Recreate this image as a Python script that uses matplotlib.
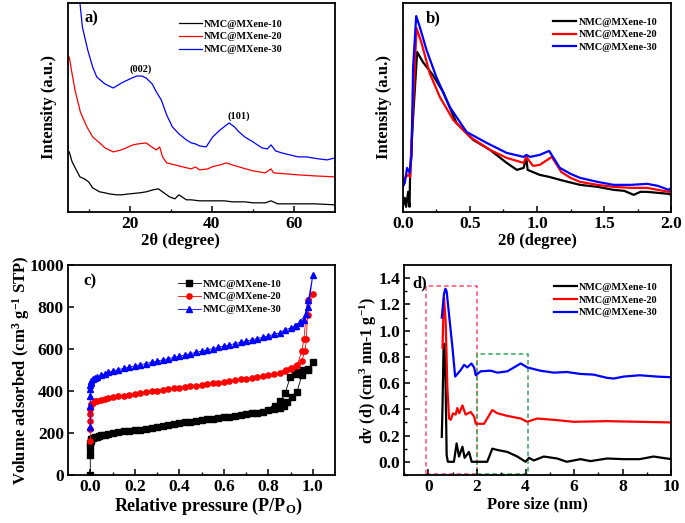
import numpy as np
import matplotlib
matplotlib.use("Agg")
import matplotlib.pyplot as plt
from matplotlib.patches import Rectangle

plt.rcParams['font.family'] = ['Liberation Serif', 'DejaVu Serif']
plt.rcParams['font.weight'] = 'bold'
plt.rcParams['axes.labelweight'] = 'bold'
plt.rcParams['mathtext.fontset'] = 'custom'
plt.rcParams['mathtext.rm'] = 'Liberation Serif:bold'
plt.rcParams['mathtext.it'] = 'Liberation Serif:bold'
plt.rcParams['mathtext.bf'] = 'Liberation Serif:bold'

names = ['NMC@MXene-10', 'NMC@MXene-20', 'NMC@MXene-30']
cols = ['black', 'red', 'blue']

# a) XRD, arbitrary units
xa_10 = [5.3, 6, 7, 7.9, 9, 10, 11, 12.7, 14, 15, 16.8, 18, 20, 22.4, 24, 25.7, 27, 28, 29.7, 31, 32, 33.8, 35, 37, 39, 41, 43, 45, 48, 50, 53, 54.4, 56, 60, 65, 70]
ya_10 = [60, 50, 42, 35, 33, 30, 24, 20, 19, 18, 17, 17, 18, 19, 20, 22, 23, 20, 15, 13, 17, 12, 12, 11, 11, 11, 11, 10, 10, 9, 9, 11, 8, 8, 8, 7]
xa_20 = [5.3, 6, 6.7, 8, 9.6, 11, 12.7, 14, 16, 18, 20.8, 22, 24, 25, 26.5, 27.3, 28, 29, 31, 32.9, 35, 36, 37, 39, 40, 42, 43.5, 45, 47.4, 50, 53, 54.4, 55, 58, 61, 65, 70]
ya_20 = [155, 138, 122, 100, 85, 75, 69, 64, 60, 62, 67, 68, 69, 66, 62, 65, 55, 49, 47, 45, 43, 45, 42, 43, 45, 47, 49, 47, 44, 41, 39, 43, 39, 38, 37, 36, 35]
xa_30 = [7.9, 8.5, 9.8, 11, 12, 14, 16, 18, 20, 21.7, 23, 24, 25.5, 26.5, 27.7, 29, 30.4, 32, 33.8, 35, 36, 37, 38.6, 40.2, 42, 44.2, 45.5, 46.6, 48, 50, 52.2, 53.5, 54.4, 55.5, 57, 59, 61, 63, 66, 68, 70]
ya_30 = [209, 185, 162, 145, 135, 128, 124, 129, 133, 136, 136, 134, 128, 120, 112, 97, 85, 78, 72, 69, 68, 66, 65, 75, 82, 89, 85, 80, 75, 70, 64, 63, 67, 61, 59, 57, 55, 55, 53, 52, 54]

# b) low-angle XRD, arbitrary units
xb_10 = [0.0, 0.015, 0.025, 0.04, 0.05, 0.055, 0.077, 0.107, 0.15, 0.224, 0.3, 0.4, 0.525, 0.65, 0.774, 0.85, 0.9, 0.92, 0.93, 1.02, 1.09, 1.2, 1.32, 1.45, 1.57, 1.65, 1.72, 1.77, 1.82, 1.9, 1.98, 2.0]
yb_10 = [5, 14, 5, 20, 5, 39, 95, 160, 150, 137, 120, 89, 72, 62, 49, 42, 44, 54, 42, 37, 35, 31, 27, 25, 22, 21, 17, 20, 20, 19, 18, 17]
xb_20 = [0.0, 0.015, 0.04, 0.055, 0.072, 0.102, 0.14, 0.2, 0.276, 0.376, 0.5, 0.65, 0.774, 0.9, 0.92, 0.97, 1.02, 1.11, 1.18, 1.25, 1.32, 1.45, 1.57, 1.7, 1.82, 1.9, 1.98, 2.0]
yb_20 = [30, 34, 37, 35, 92, 184, 169, 139, 115, 92, 75, 62, 54, 49, 55, 46, 47, 55, 40, 34, 30, 27, 25, 24, 24, 22, 20, 21]
xb_30 = [0.0, 0.015, 0.032, 0.05, 0.065, 0.077, 0.10, 0.127, 0.177, 0.25, 0.35, 0.475, 0.625, 0.774, 0.9, 0.92, 0.948, 1.02, 1.09, 1.17, 1.25, 1.32, 1.45, 1.57, 1.7, 1.82, 1.9, 1.98, 2.0]
yb_30 = [25, 29, 44, 39, 55, 145, 196, 185, 162, 135, 105, 80, 69, 59, 55, 57, 55, 57, 61, 44, 38, 34, 30, 27, 27, 28, 26, 22, 24]

# c) N2 isotherms (adsorption then desorption)
pc_10 = [0.0, 0.0, 0.0, 0.0, 0.002, 0.005, 0.01, 0.02, 0.03, 0.04, 0.05, 0.065, 0.08,
         0.10, 0.125, 0.15, 0.175, 0.20, 0.225, 0.25, 0.275, 0.30, 0.325, 0.35, 0.375, 0.40, 0.425, 0.45, 0.475,
         0.50, 0.525, 0.55, 0.575, 0.60, 0.625, 0.65, 0.675, 0.70, 0.725, 0.75, 0.775, 0.80, 0.825, 0.85,
         0.868, 0.883, 0.905, 0.928, 0.95, 0.98, 1.0,
         0.98, 0.957, 0.935, 0.92, 0.898, 0.875, 0.853, 0.83]
vc_10 = [0, 95, 130, 150, 160, 170, 175, 180, 183, 186, 188, 192, 196,
         200, 204, 207, 210, 213, 216, 220, 225, 230, 234, 238, 242, 246, 250, 254, 258,
         262, 265, 268, 272, 275, 278, 282, 285, 289, 293, 297, 302, 307, 312, 320,
         330, 346, 370, 394, 474, 501, 537,
         505, 498, 490, 482, 466, 389, 351, 330]
pc_20 = [0.0, 0.0, 0.0, 0.0, 0.0, 0.002, 0.005, 0.01, 0.02, 0.03, 0.05, 0.065, 0.08,
         0.10, 0.125, 0.15, 0.175, 0.20, 0.225, 0.25, 0.275, 0.30, 0.325, 0.35, 0.375, 0.40, 0.425, 0.45, 0.475,
         0.50, 0.525, 0.55, 0.575, 0.60, 0.625, 0.65, 0.675, 0.70, 0.725, 0.75, 0.775, 0.80, 0.825, 0.85,
         0.875, 0.9, 0.925, 0.95, 0.965, 0.97, 0.976, 1.0,
         0.976, 0.96, 0.95, 0.93, 0.9, 0.88]
vc_20 = [160, 220, 255, 290, 315, 335, 340, 345, 350, 353, 357, 361, 365,
         370, 374, 378, 382, 386, 390, 394, 398, 402, 406, 409, 413, 416, 419, 422, 425,
         428, 432, 436, 440, 444, 448, 452, 455, 459, 463, 467, 471, 476, 481, 487,
         495, 505, 517, 545, 590, 646, 760, 861,
         836, 650, 590, 525, 512, 500]
pc_30 = [0.0, 0.0, 0.0, 0.0, 0.0, 0.002, 0.005, 0.01, 0.02, 0.03, 0.05, 0.065, 0.08,
         0.10, 0.125, 0.15, 0.175, 0.20, 0.225, 0.25, 0.275, 0.30, 0.325, 0.35, 0.375, 0.40, 0.425, 0.45, 0.475,
         0.50, 0.525, 0.55, 0.575, 0.60, 0.625, 0.65, 0.675, 0.70, 0.725, 0.75, 0.775, 0.80, 0.825, 0.85,
         0.875, 0.9, 0.925, 0.94, 0.97, 0.98, 1.0,
         0.98, 0.96, 0.94, 0.92]
vc_30 = [230, 330, 375, 410, 430, 440, 448, 455, 462, 467, 475, 482, 489,
         495, 502, 508, 514, 520, 525, 531, 537, 543, 548, 554, 560, 566, 572, 578, 584,
         590, 596, 602, 608, 614, 620, 626, 632, 638, 644, 650, 656, 663, 670, 677,
         692, 700, 712, 730, 765, 800, 955,
         835, 740, 725, 710]

# d) pore size distribution
xd_10 = [0.55, 0.58, 0.62, 0.66, 0.71, 0.75, 0.8, 1.05, 1.16, 1.26, 1.4, 1.49, 1.67, 1.78, 2.0, 2.42, 2.63, 2.84, 3.25, 3.66, 4.0, 4.14, 4.34, 4.75, 5.3, 5.7, 6.26, 6.67, 7.36, 8.04, 8.7, 9.27, 10.0]
yd_10 = [0.19, 0.43, 0.85, 0.9, 0.56, 0.05, 0.0, 0.0, 0.14, 0.04, 0.115, 0.03, 0.075, 0.0, 0.0, 0.0, 0.1, 0.09, 0.075, 0.04, 0.0, 0.03, 0.01, 0.04, 0.025, 0.0, 0.02, 0.005, 0.025, 0.02, 0.02, 0.04, 0.02]
xd_20 = [0.58, 0.62, 0.64, 0.71, 0.78, 0.85, 0.92, 1.01, 1.12, 1.19, 1.27, 1.4, 1.53, 1.74, 1.88, 1.95, 2.29, 2.63, 2.84, 3.25, 3.52, 3.8, 4.07, 4.48, 5.16, 5.99, 7.36, 8.7, 10.0]
yd_20 = [0.87, 1.17, 1.25, 1.07, 0.56, 0.33, 0.32, 0.37, 0.36, 0.41, 0.37, 0.43, 0.36, 0.38, 0.345, 0.29, 0.29, 0.395, 0.37, 0.35, 0.34, 0.33, 0.305, 0.33, 0.32, 0.305, 0.31, 0.305, 0.30]
xd_30 = [0.55, 0.64, 0.7, 0.75, 0.85, 0.99, 1.1, 1.33, 1.47, 1.6, 1.77, 1.88, 1.95, 2.15, 2.56, 2.84, 3.25, 3.8, 4.07, 4.6, 5.16, 5.7, 6.26, 6.8, 7.36, 7.63, 8.04, 8.7, 9.4, 10.0]
yd_30 = [1.10, 1.28, 1.32, 1.30, 1.12, 0.87, 0.65, 0.70, 0.74, 0.72, 0.75, 0.72, 0.66, 0.69, 0.695, 0.68, 0.69, 0.75, 0.72, 0.695, 0.68, 0.685, 0.67, 0.665, 0.64, 0.635, 0.65, 0.66, 0.65, 0.645]

# dashed boxes in panel d: (x0, y0, x1, y1)
box_pink = (-0.1, -0.09, 2.0, 1.34)
box_green = (2.0, -0.09, 4.1, 0.82)

fig = plt.figure(figsize=(6.85, 5.23), dpi=100)
ax_a = fig.add_axes([0.0993, 0.595, 0.390, 0.399])
ax_b = fig.add_axes([0.588, 0.595, 0.392, 0.399])
ax_c = fig.add_axes([0.0993, 0.092, 0.390, 0.401])
ax_d = fig.add_axes([0.590, 0.092, 0.390, 0.401])

for ax in [ax_a, ax_b, ax_c, ax_d]:
    for s in ax.spines.values():
        s.set_linewidth(1.3)
    ax.tick_params(direction='in', labelsize=12.5, width=1.1, length=4, pad=3)
    ax.tick_params(which='minor', direction='in', width=1.0, length=2.5)

leg_font = {'size': 7.3, 'weight': 'bold'}

# a)
for x, y, c, nm in zip([xa_10, xa_20, xa_30], [ya_10, ya_20, ya_30], cols, names):
    ax_a.plot(x, y, color=c, lw=0.9, label=nm)
ax_a.set_xlim(5, 70)
ax_a.set_ylim(0, 209)
ax_a.set_xticks([20, 40, 60])
ax_a.set_xticks([10, 30, 50], minor=True)
ax_a.set_yticks([])
ax_a.set_xlabel('2θ (degree)', fontsize=12, labelpad=1)
ax_a.xaxis.set_label_coords(0.42, -0.1)
ax_a.set_ylabel('Intensity (a.u.)', fontsize=12, labelpad=8)
ax_a.text(0.06, 0.925, 'a)', transform=ax_a.transAxes, fontsize=12, fontweight='bold', va='center')
ax_a.text(20, 140, '(002)', fontsize=7.5, fontweight='bold')
ax_a.text(43.7, 93, '(101)', fontsize=7.5, fontweight='bold')
ax_a.legend(loc='upper left', bbox_to_anchor=(0.40, 0.94), frameon=False, prop=leg_font,
            handlelength=2.3, handletextpad=0.2, labelspacing=0.35, borderaxespad=0)

# b)
for x, y, c, nm in zip([xb_10, xb_20, xb_30], [yb_10, yb_20, yb_30], cols, names):
    ax_b.plot(x, y, color=c, lw=1.6, label=nm)
ax_b.set_xlim(0, 2.0)
ax_b.set_ylim(0, 209)
ax_b.set_xticks([0.0, 0.5, 1.0, 1.5, 2.0])
ax_b.set_xticks([0.25, 0.75, 1.25, 1.75], minor=True)
ax_b.set_yticks([])
ax_b.set_xlabel('2θ (degree)', fontsize=12, labelpad=1)
ax_b.set_ylabel('Intensity (a.u.)', fontsize=12, labelpad=8)
ax_b.text(0.085, 0.925, 'b)', transform=ax_b.transAxes, fontsize=12, fontweight='bold', va='center')
ax_b.legend(loc='upper left', bbox_to_anchor=(0.545, 0.95), frameon=False, prop=leg_font,
            handlelength=2.3, handletextpad=0.2, labelspacing=0.35, borderaxespad=0)

# c)
marks = ['s', 'o', '^']
for x, y, c, m, nm in zip([pc_10, pc_20, pc_30], [vc_10, vc_20, vc_30], cols, marks, names):
    ax_c.plot(x, y, color=c, lw=0.6, marker=m, ms=3.8, label=nm)
ax_c.set_xlim(-0.1, 1.1)
ax_c.set_ylim(0, 1000)
ax_c.set_xticks([0.0, 0.2, 0.4, 0.6, 0.8, 1.0])
ax_c.set_xticks([0.1, 0.3, 0.5, 0.7, 0.9], minor=True)
ax_c.set_yticks([0, 200, 400, 600, 800, 1000])
ax_c.set_xlabel('Relative pressure (P/P$_\\mathrm{O}$)', fontsize=13, labelpad=1)
ax_c.xaxis.set_label_coords(0.525, -0.1)
ax_c.set_ylabel('Volume adsorbed (cm$^3$ g$^{-1}$ STP)', fontsize=12, labelpad=-2)
ax_c.text(0.056, 0.922, 'c)', transform=ax_c.transAxes, fontsize=12, fontweight='bold', va='center')
ax_c.legend(loc='upper left', bbox_to_anchor=(0.395, 0.95), frameon=False, prop=leg_font,
            handlelength=2.3, handletextpad=0.2, labelspacing=0.35, borderaxespad=0)

# d)
for x, y, c, nm in zip([xd_10, xd_20, xd_30], [yd_10, yd_20, yd_30], cols, names):
    ax_d.plot(x, y, color=c, lw=1.6, label=nm)
for b, bc in [(box_pink, '#ff4d6d'), (box_green, '#33aa55')]:
    ax_d.add_patch(Rectangle((b[0], b[1]), b[2] - b[0], b[3] - b[1], fill=False, ls=(0, (3, 2)), lw=1.1, ec=bc))
ax_d.set_xlim(-1, 10)
ax_d.set_ylim(-0.1, 1.5)
ax_d.set_xticks([0, 2, 4, 6, 8, 10])
ax_d.set_xticks([-1, 1, 3, 5, 7, 9], minor=True)
ax_d.set_yticks([0.0, 0.2, 0.4, 0.6, 0.8, 1.0, 1.2, 1.4])
ax_d.set_yticks([-0.1, 0.1, 0.3, 0.5, 0.7, 0.9, 1.1, 1.3], minor=True)
ax_d.yaxis.set_major_formatter(matplotlib.ticker.FormatStrFormatter('%.1f'))
ax_d.set_xlabel('Pore size (nm)', fontsize=12, labelpad=1)
ax_d.set_ylabel('dv (d) (cm$^3$ nm-1 g$^{-1}$)', fontsize=11.5, labelpad=-1)
ax_d.text(0.03, 0.912, 'd)', transform=ax_d.transAxes, fontsize=12, fontweight='bold', va='center')
ax_d.legend(loc='upper left', bbox_to_anchor=(0.545, 0.935), frameon=False, prop=leg_font,
            handlelength=2.3, handletextpad=0.2, labelspacing=0.35, borderaxespad=0)

for ax in [ax_a, ax_b, ax_c, ax_d]:
    for t in ax.get_xticklabels() + ax.get_yticklabels():
        t.set_fontweight('bold')

fig.savefig('out.png', dpi=100)
